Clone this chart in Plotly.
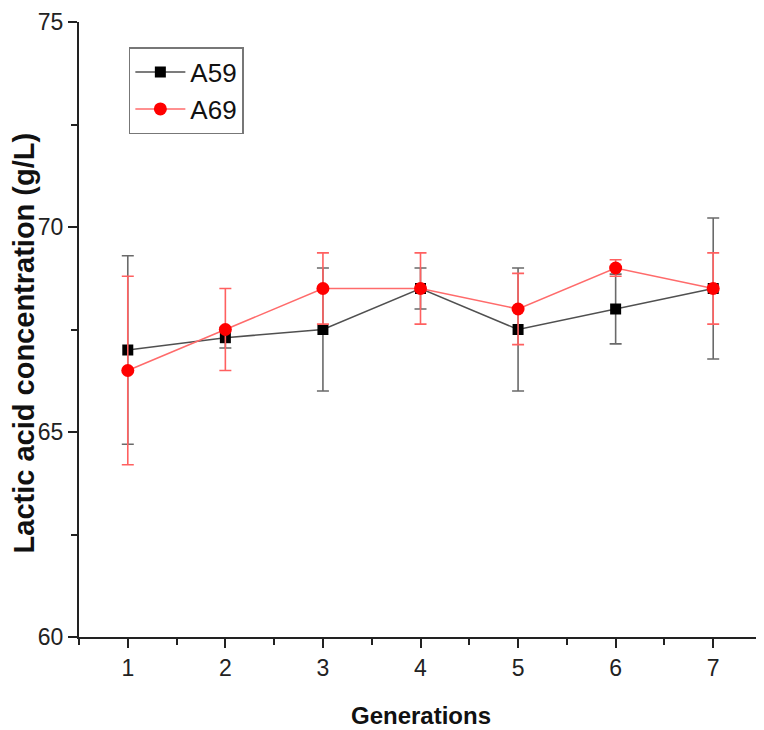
import plotly.graph_objects as go

# generations on the x axis
generations = [1, 2, 3, 4, 5, 6, 7]

# lactic acid concentration (g/L)
a59 = [67.0, 67.3, 67.5, 68.5, 67.5, 68.0, 68.5]
a59_err = [2.3, 0.25, 1.5, 0.5, 1.5, 0.85, 1.72]

a69 = [66.5, 67.5, 68.5, 68.5, 68.0, 69.0, 68.5]
a69_err = [2.3, 1.0, 0.87, 0.87, 0.87, 0.2, 0.87]

FONT = "Liberation Sans, Arial"

fig = go.Figure()

fig.add_trace(go.Scatter(
    x=generations, y=a59, name="A59", mode="lines+markers",
    line=dict(color="#505050", width=1.5),
    marker=dict(symbol="square", size=11, color="black"),
    error_y=dict(type="data", array=a59_err, visible=True,
                 color="#6a6a6a", thickness=1.6, width=6),
))
fig.add_trace(go.Scatter(
    x=generations, y=a69, name="A69", mode="lines+markers",
    line=dict(color="#ff6b6b", width=1.5),
    marker=dict(symbol="circle", size=13, color="#ff0000"),
    error_y=dict(type="data", array=a69_err, visible=True,
                 color="#ff6060", thickness=1.6, width=6),
))

axis_common = dict(
    showgrid=False, zeroline=False, showline=True, linecolor="#222",
    linewidth=2, ticks="outside", ticklen=9, tickwidth=1.5, tickcolor="#222",
    tickfont=dict(family=FONT, size=23, color="#222"),
    ticklabeloverflow="allow", automargin=False, mirror=False,
)

fig.update_xaxes(
    range=[0.5, 7.5], tickvals=generations, **axis_common,
    minor=dict(ticks="outside", dtick=0.5, tick0=0.5, ticklen=6, tickwidth=1.5, tickcolor="#222"),
)
fig.update_yaxes(
    range=[60, 75], tickvals=[60, 65, 70, 75], **axis_common,
    minor=dict(ticks="outside", dtick=2.5, tick0=60, ticklen=6, tickwidth=1.5, tickcolor="#222"),
)

# axis titles as annotations so they sit where the original has them
fig.add_annotation(text="<b>Generations</b>", xref="paper", yref="paper",
                   x=0.5, y=-0.128, xanchor="center", yanchor="middle", showarrow=False,
                   font=dict(family=FONT, size=24, color="#111"))
fig.add_annotation(text="<b>Lactic acid concentration (g/L)</b>", xref="paper", yref="paper",
                   x=-0.08, y=0.478, xanchor="center", yanchor="middle", showarrow=False,
                   textangle=-90, font=dict(family=FONT, size=29, color="#111"))

# margins are offset by the page's 8px body margin
fig.update_layout(
    width=764, height=730,
    margin=dict(l=71, r=10, t=14, b=101),
    plot_bgcolor="white", paper_bgcolor="white",
    legend=dict(
        x=0.073, y=0.959, xanchor="left", yanchor="top",
        bordercolor="#777", borderwidth=1.5, bgcolor="white",
        font=dict(family=FONT, size=26, color="#111"),
        itemwidth=50, tracegroupgap=0,
    ),
    showlegend=True,
)

fig.write_html("out.html")
